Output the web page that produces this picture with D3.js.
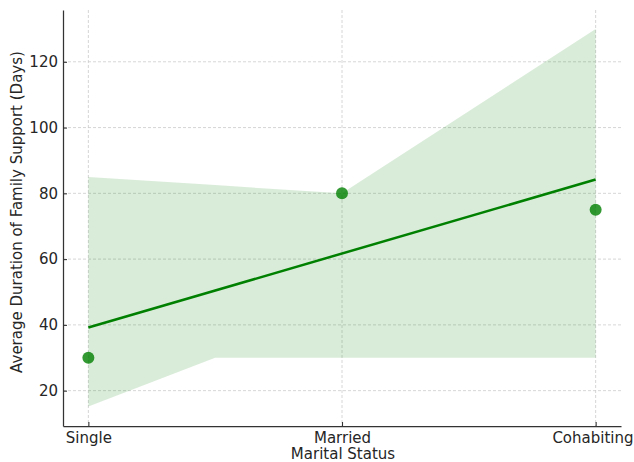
<!DOCTYPE html>
<html>
<head>
<meta charset="utf-8">
<script src="https://cdn.jsdelivr.net/npm/d3@7"></script>
<style>
  body { margin: 0; background: #fff; }
  text { font-family: "DejaVu Sans", sans-serif; fill: #262626; }
</style>
</head>
<body>
<svg id="chart" width="634" height="462"></svg>
<script>
var categories = ["Single", "Married", "Cohabiting"];
var durations = [30, 80, 75];
var yTicks = [20, 40, 60, 80, 100, 120];

// regression fit and its confidence band
var fitX = [0, 2];
var fitY = [39.2, 84.2];
var bandX = [0, 0.5, 1, 2];
var bandLow = [15.2, 30, 30, 30];
var bandHigh = [85, 82.5, 80, 130];

var svg = d3.select("#chart"),
    margin = {top: 10, right: 13, bottom: 36, left: 63},
    width  = +svg.attr("width")  - margin.left - margin.right,
    height = +svg.attr("height") - margin.top  - margin.bottom;

var x = d3.scaleLinear().domain([-0.1, 2.1]).range([0, width]),
    y = d3.scaleLinear().domain([9.25, 135.75]).range([height, 0]);

var g = svg.append("g")
    .attr("transform", "translate(" + margin.left + "," + margin.top + ")");

// grid
g.append("g").selectAll("line").data(yTicks).enter().append("line")
    .attr("x1", 0).attr("x2", width)
    .attr("y1", function(d) { return y(d); })
    .attr("y2", function(d) { return y(d); })
    .attr("stroke", "#cccccc").attr("stroke-width", 0.8)
    .attr("stroke-dasharray", "3,2");

g.append("g").selectAll("line").data(categories).enter().append("line")
    .attr("x1", function(d, i) { return x(i); })
    .attr("x2", function(d, i) { return x(i); })
    .attr("y1", 0).attr("y2", height)
    .attr("stroke", "#cccccc").attr("stroke-width", 0.8)
    .attr("stroke-dasharray", "3,2");

// confidence band
var area = d3.area()
    .x(function(d, i) { return x(bandX[i]); })
    .y0(function(d, i) { return y(bandLow[i]); })
    .y1(function(d, i) { return y(bandHigh[i]); });

g.append("path")
    .datum(bandX)
    .attr("d", area)
    .attr("fill", "#008000")
    .attr("fill-opacity", 0.15);

// points
g.append("g").selectAll("circle").data(durations).enter().append("circle")
    .attr("cx", function(d, i) { return x(i); })
    .attr("cy", function(d) { return y(d); })
    .attr("r", 6)
    .attr("fill", "#008000")
    .attr("fill-opacity", 0.8);

// regression line
var line = d3.line()
    .x(function(d, i) { return x(fitX[i]); })
    .y(function(d) { return y(d); });

g.append("path")
    .datum(fitY)
    .attr("d", line)
    .attr("fill", "none")
    .attr("stroke", "#008000")
    .attr("stroke-width", 2.5);

// axes
var xAxis = d3.axisBottom(x)
    .tickValues([0, 1, 2])
    .tickFormat(function(d) { return categories[d]; })
    .tickSizeInner(-4).tickSizeOuter(0).tickPadding(6);

var yAxis = d3.axisLeft(y)
    .tickValues(yTicks)
    .tickSizeInner(-4).tickSizeOuter(0).tickPadding(5);

var gx = g.append("g")
    .attr("transform", "translate(0," + height + ")")
    .call(xAxis);

var gy = g.append("g").call(yAxis);

[gx, gy].forEach(function(a) {
  a.select(".domain").attr("stroke", "#333").attr("stroke-width", 1.25);
  a.selectAll(".tick line").attr("stroke", "#333").attr("stroke-width", 1.1);
  a.selectAll(".tick text")
    .attr("font-family", "DejaVu Sans")
    .attr("font-size", 15)
    .attr("fill", "#262626");
});

// keep the last category label inside the picture
gx.selectAll(".tick text").filter(function(d) { return d === 2; })
    .attr("text-anchor", "end")
    .attr("dx", (634 - margin.left - x(2) - 1) + "px");

svg.append("text")
    .attr("x", margin.left + width / 2 + 1)
    .attr("y", 459)
    .attr("text-anchor", "middle")
    .attr("font-size", 15)
    .text("Marital Status");

svg.append("text")
    .attr("transform", "translate(22,212) rotate(-90)")
    .attr("text-anchor", "middle")
    .attr("font-size", 15)
    .text("Average Duration of Family Support (Days)");
</script>
</body>
</html>
